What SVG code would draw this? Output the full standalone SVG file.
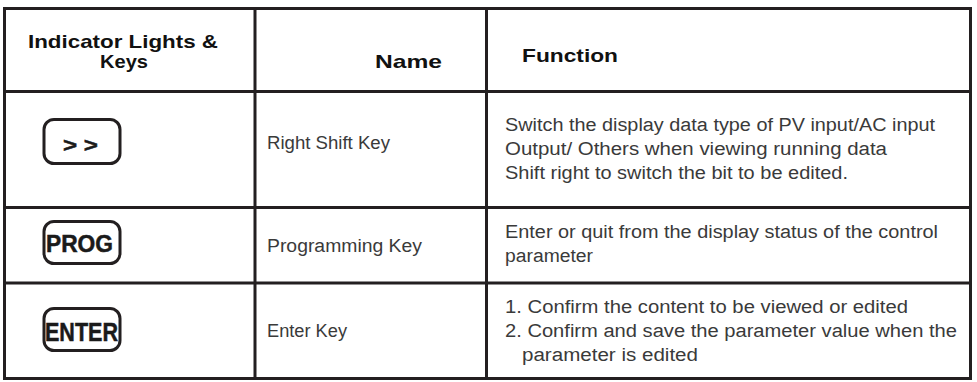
<svg xmlns="http://www.w3.org/2000/svg" width="977" height="382" viewBox="0 0 977 382">
<style>
.grid{stroke:#231f20;stroke-width:3;fill:none}
.key{stroke:#231f20;stroke-width:3;fill:#fff}
.hd{font-family:"Liberation Sans",Arial,sans-serif;font-weight:bold;font-size:19px;fill:#111}
.kl{font-family:"Liberation Sans",Arial,sans-serif;font-weight:bold;fill:#1a1a1a;stroke:#1a1a1a;stroke-width:0.5}
.tx{font-family:"Liberation Sans",Arial,sans-serif;font-size:18px;fill:#3a3a3a}
</style>
<rect width="977" height="382" fill="#fff"/>
<g id="table-grid">
<rect class="grid" x="4.5" y="8.5" width="966" height="370"/>
<line class="grid" x1="255" y1="8.5" x2="255" y2="378.5"/>
<line class="grid" x1="486.5" y1="8.5" x2="486.5" y2="378.5"/>
<line class="grid" x1="4.5" y1="91.5" x2="970.5" y2="91.5"/>
<line class="grid" x1="4.5" y1="207.5" x2="970.5" y2="207.5"/>
<line class="grid" x1="4.5" y1="283" x2="970.5" y2="283"/>
</g>
<g id="header">
<text class="hd" x="28" y="48" textLength="190" lengthAdjust="spacingAndGlyphs">Indicator Lights &amp;</text>
<text class="hd" x="100" y="68" textLength="48" lengthAdjust="spacingAndGlyphs">Keys</text>
<text class="hd" x="375" y="68" textLength="67" lengthAdjust="spacingAndGlyphs">Name</text>
<text class="hd" x="522" y="62" textLength="96" lengthAdjust="spacingAndGlyphs">Function</text>
</g>
<g id="row-right-shift">
<rect class="key" x="44" y="119.5" width="76" height="44" rx="10"/>
<text class="kl" x="63" y="152" font-size="21" textLength="35" lengthAdjust="spacingAndGlyphs">&gt; &gt;</text>
<text class="tx" x="267" y="149" textLength="123" lengthAdjust="spacingAndGlyphs">Right Shift Key</text>
<text class="tx" x="505" y="131" textLength="430" lengthAdjust="spacingAndGlyphs">Switch the display data type of PV input/AC input</text>
<text class="tx" x="505" y="155" textLength="382" lengthAdjust="spacingAndGlyphs">Output/ Others when viewing running data</text>
<text class="tx" x="505" y="179" textLength="343" lengthAdjust="spacingAndGlyphs">Shift right to switch the bit to be edited.</text>
</g>
<g id="row-prog">
<rect class="key" x="44" y="221.5" width="76" height="42" rx="10"/>
<text class="kl" x="46" y="252" font-size="23" textLength="67" lengthAdjust="spacingAndGlyphs">PROG</text>
<text class="tx" x="267" y="252" textLength="155" lengthAdjust="spacingAndGlyphs">Programming Key</text>
<text class="tx" x="505" y="238" textLength="433" lengthAdjust="spacingAndGlyphs">Enter or quit from the display status of the control</text>
<text class="tx" x="505" y="262" textLength="88" lengthAdjust="spacingAndGlyphs">parameter</text>
</g>
<g id="row-enter">
<rect class="key" x="44" y="308.5" width="76" height="42" rx="10"/>
<text class="kl" x="45" y="341" font-size="25" textLength="73" lengthAdjust="spacingAndGlyphs">ENTER</text>
<text class="tx" x="267" y="337" textLength="80" lengthAdjust="spacingAndGlyphs">Enter Key</text>
<text class="tx" x="505" y="313" textLength="403" lengthAdjust="spacingAndGlyphs">1. Confirm the content to be viewed or edited</text>
<text class="tx" x="505" y="337" textLength="452" lengthAdjust="spacingAndGlyphs">2. Confirm and save the parameter value when the</text>
<text class="tx" x="522" y="361" textLength="176" lengthAdjust="spacingAndGlyphs">parameter is edited</text>
</g>
</svg>
